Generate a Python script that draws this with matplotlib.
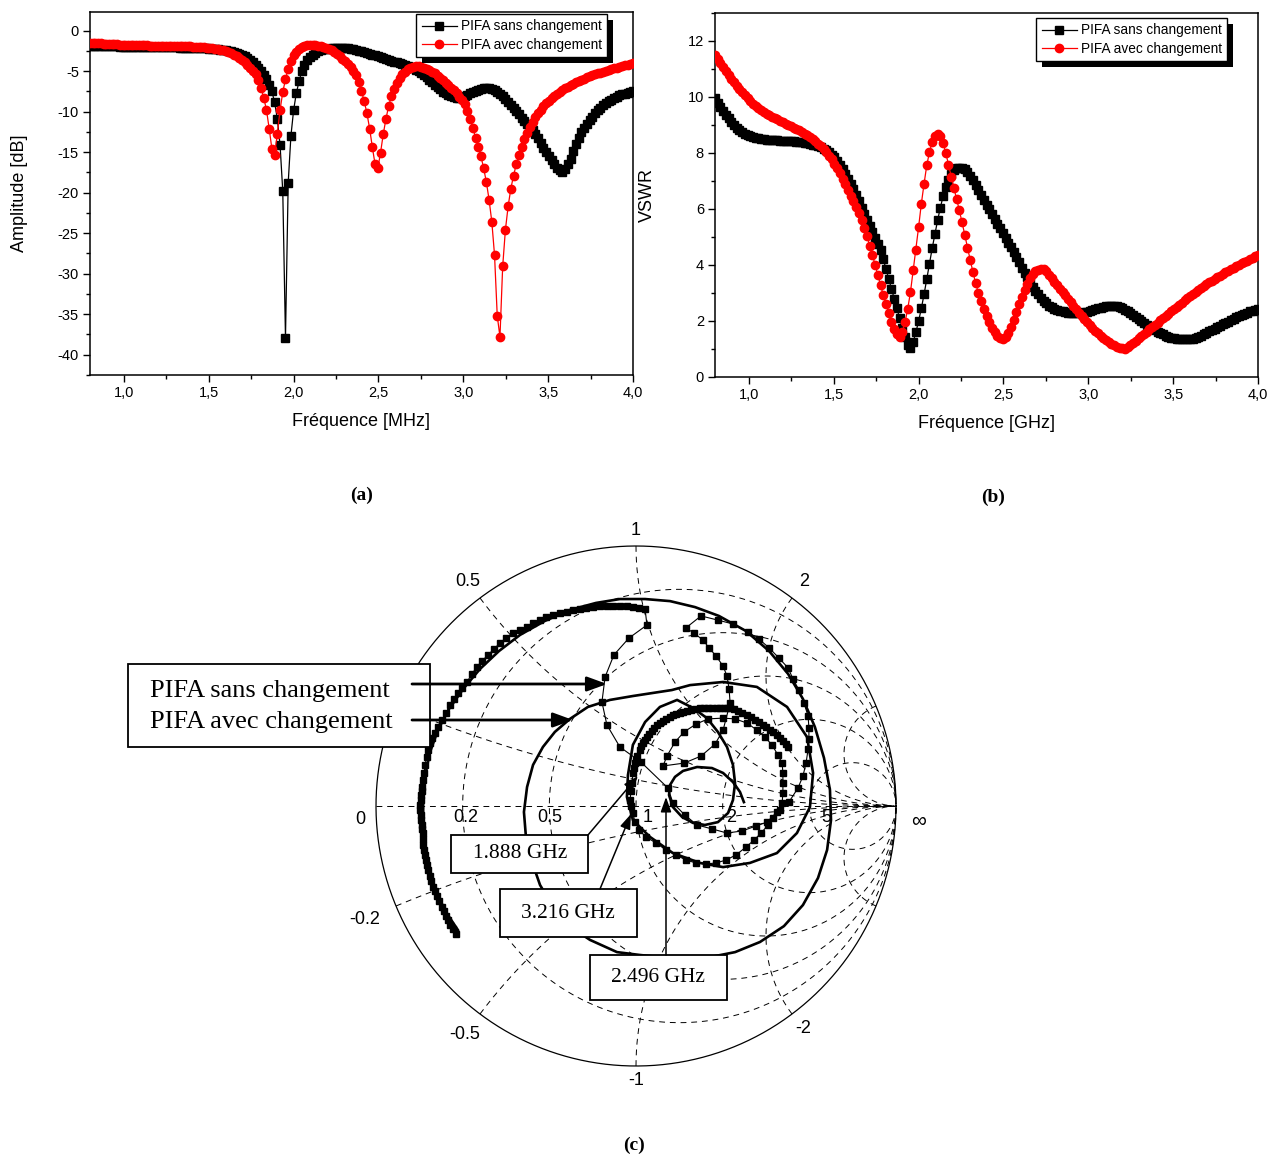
import numpy as np
import matplotlib
matplotlib.use("Agg")
import matplotlib.pyplot as plt
from matplotlib.patches import Rectangle
from matplotlib.ticker import MultipleLocator, FuncFormatter

W, H = 1276, 1157
plt.rcParams['font.family'] = ['Liberation Sans', 'DejaVu Sans']
SERIF = ['Liberation Serif', 'DejaVu Serif']

# ---------------- data ----------------
# sweep 0.8 -> 4.0 GHz, 16 MHz step (201 points)
freq = np.round(0.8 + 0.016 * np.arange(201), 3)

s11_sans = [
    -1.85, -1.86, -1.87, -1.88, -1.89, -1.90, -1.91, -1.92, -1.93, -1.94,
    -1.95, -1.96, -1.97, -1.98, -1.99, -1.99, -2.00, -2.00, -2.01, -2.01,
    -2.02, -2.02, -2.03, -2.03, -2.04, -2.04, -2.05, -2.05, -2.06, -2.06,
    -2.07, -2.07, -2.08, -2.09, -2.10, -2.10, -2.11, -2.12, -2.13, -2.14,
    -2.15, -2.16, -2.18, -2.20, -2.22, -2.24, -2.27, -2.30, -2.34, -2.38,
    -2.43, -2.48, -2.53, -2.60, -2.70, -2.83, -2.98, -3.15, -3.38, -3.62,
    -3.90, -4.20, -4.55, -4.95, -5.45, -6.00, -6.70, -7.50, -8.85, -10.9,
    -14.1, -19.8, -37.9, -18.8, -13.0, -9.8, -7.7, -6.26, -5.0, -4.2,
    -3.65, -3.25, -2.95, -2.70, -2.52, -2.40, -2.32, -2.27, -2.23, -2.20,
    -2.18, -2.16, -2.15, -2.15, -2.17, -2.20, -2.25, -2.32, -2.40, -2.48,
    -2.57, -2.66, -2.75, -2.85, -2.95, -3.05, -3.15, -3.26, -3.37, -3.48,
    -3.60, -3.72, -3.83, -3.93, -4.03, -4.12, -4.22, -4.35, -4.50, -4.65,
    -4.80, -5.00, -5.22, -5.47, -5.75, -6.05, -6.35, -6.65, -6.95, -7.25,
    -7.52, -7.75, -7.95, -8.10, -8.22, -8.28, -8.27, -8.20, -8.08, -7.92,
    -7.75, -7.58, -7.42, -7.30, -7.20, -7.13, -7.10, -7.12, -7.20, -7.35,
    -7.55, -7.80, -8.10, -8.45, -8.82, -9.20, -9.55, -9.95, -10.35, -10.75,
    -11.15, -11.55, -11.95, -12.30, -12.75, -13.30, -13.90, -14.45, -14.95, -15.45,
    -15.95, -16.45, -16.90, -17.25, -17.40, -17.10, -16.50, -15.80, -14.90, -14.00,
    -13.20, -12.55, -12.00, -11.50, -11.00, -10.60, -10.20, -9.85, -9.50, -9.20,
    -8.95, -8.70, -8.50, -8.30, -8.15, -8.00, -7.88, -7.76, -7.66, -7.57,
    -7.50]

s11_avec = [
    -1.50, -1.52, -1.54, -1.56, -1.58, -1.60, -1.62, -1.64, -1.66, -1.68,
    -1.70, -1.72, -1.74, -1.75, -1.76, -1.77, -1.78, -1.79, -1.80, -1.81,
    -1.82, -1.83, -1.84, -1.85, -1.85, -1.86, -1.87, -1.87, -1.88, -1.88,
    -1.89, -1.89, -1.90, -1.90, -1.91, -1.92, -1.93, -1.94, -1.96, -1.98,
    -2.00, -2.03, -2.06, -2.10, -2.14, -2.18, -2.23, -2.28, -2.34, -2.41,
    -2.50, -2.62, -2.77, -2.95, -3.15, -3.37, -3.60, -3.87, -4.20, -4.55,
    -4.95, -5.40, -6.10, -7.10, -8.30, -9.80, -12.1, -14.6, -15.3, -12.7,
    -9.8, -7.6, -6.0, -4.7, -3.8, -3.0, -2.6, -2.25, -2.05, -1.90,
    -1.80, -1.75, -1.75, -1.78, -1.84, -1.92, -2.02, -2.14, -2.28, -2.45,
    -2.65, -2.88, -3.15, -3.45, -3.78, -4.12, -4.50, -4.95, -5.50, -6.40,
    -7.50, -8.70, -10.2, -12.1, -14.4, -16.5, -17.0, -15.1, -12.8, -10.9,
    -9.30, -8.10, -7.20, -6.45, -5.85, -5.40, -5.05, -4.78, -4.60, -4.48,
    -4.42, -4.42, -4.48, -4.58, -4.70, -4.85, -5.05, -5.28, -5.55, -5.85,
    -6.15, -6.45, -6.75, -7.05, -7.38, -7.75, -8.15, -8.60, -9.10, -9.90,
    -10.9, -12.0, -13.2, -14.3, -15.5, -17.0, -18.7, -20.9, -23.6, -27.7,
    -35.2, -37.8, -29.1, -24.6, -21.7, -19.5, -17.9, -16.5, -15.3, -14.3,
    -13.4, -12.6, -11.9, -11.25, -10.7, -10.2, -9.75, -9.35, -8.98, -8.65,
    -8.35, -8.07, -7.80, -7.55, -7.32, -7.10, -6.90, -6.72, -6.55, -6.38,
    -6.22, -6.07, -5.92, -5.78, -5.65, -5.52, -5.40, -5.28, -5.17, -5.06,
    -4.95, -4.85, -4.75, -4.65, -4.55, -4.46, -4.37, -4.28, -4.19, -4.10,
    -4.02]

vswr_sans = [
    9.95, 9.80, 9.65, 9.50, 9.37, 9.24, 9.12, 9.01, 8.91, 8.82,
    8.75, 8.69, 8.64, 8.60, 8.57, 8.54, 8.52, 8.50, 8.49, 8.48,
    8.47, 8.46, 8.45, 8.45, 8.44, 8.44, 8.43, 8.43, 8.42, 8.42,
    8.41, 8.40, 8.39, 8.37, 8.35, 8.33, 8.30, 8.27, 8.24, 8.20,
    8.16, 8.10, 8.03, 7.94, 7.84, 7.72, 7.58, 7.43, 7.26, 7.08,
    6.90, 6.70, 6.49, 6.27, 6.05, 5.83, 5.62, 5.40, 5.17, 4.95,
    4.75, 4.55, 4.20, 3.85, 3.50, 3.15, 2.80, 2.45, 2.10, 1.75,
    1.42, 1.15, 1.03, 1.25, 1.60, 2.00, 2.45, 2.95, 3.50, 4.05,
    4.60, 5.10, 5.60, 6.05, 6.45, 6.78, 7.05, 7.25, 7.38, 7.45,
    7.48, 7.47, 7.42, 7.32, 7.18, 7.02, 6.85, 6.67, 6.50, 6.33,
    6.16, 5.99, 5.82, 5.65, 5.48, 5.31, 5.14, 4.97, 4.80, 4.63,
    4.45, 4.27, 4.09, 3.91, 3.73, 3.56, 3.39, 3.23, 3.08, 2.95,
    2.83, 2.72, 2.63, 2.55, 2.49, 2.44, 2.40, 2.37, 2.34, 2.32,
    2.30, 2.29, 2.28, 2.28, 2.28, 2.29, 2.31, 2.33, 2.36, 2.39,
    2.42, 2.45, 2.48, 2.50, 2.52, 2.53, 2.54, 2.54, 2.53, 2.50,
    2.46, 2.41, 2.35, 2.28, 2.21, 2.14, 2.07, 2.00, 1.93, 1.86,
    1.80, 1.74, 1.68, 1.62, 1.57, 1.52, 1.48, 1.44, 1.41, 1.39,
    1.37, 1.36, 1.35, 1.34, 1.34, 1.35, 1.37, 1.40, 1.44, 1.48,
    1.53, 1.58, 1.63, 1.68, 1.73, 1.78, 1.83, 1.88, 1.93, 1.98,
    2.03, 2.08, 2.13, 2.18, 2.22, 2.26, 2.30, 2.34, 2.37, 2.40,
    2.43]

vswr_avec = [
    11.50, 11.35, 11.21, 11.07, 10.93, 10.79, 10.66, 10.53, 10.41, 10.29,
    10.17, 10.06, 9.95, 9.84, 9.76, 9.68, 9.61, 9.54, 9.47, 9.41,
    9.35, 9.30, 9.25, 9.20, 9.15, 9.10, 9.05, 9.01, 8.96, 8.91,
    8.86, 8.81, 8.75, 8.69, 8.63, 8.57, 8.50, 8.42, 8.33, 8.24,
    8.14, 8.03, 7.91, 7.78, 7.62, 7.45, 7.27, 7.08, 6.88, 6.68,
    6.48, 6.27, 6.06, 5.85, 5.62, 5.33, 5.02, 4.68, 4.35, 4.00,
    3.63, 3.27, 2.92, 2.60, 2.27, 1.96, 1.70, 1.52, 1.43, 1.60,
    1.96, 2.44, 3.04, 3.81, 4.55, 5.36, 6.19, 6.90, 7.56, 8.04,
    8.39, 8.60, 8.69, 8.60, 8.36, 8.00, 7.58, 7.15, 6.75, 6.35,
    5.95, 5.52, 5.08, 4.62, 4.18, 3.75, 3.35, 3.00, 2.70, 2.42,
    2.17, 1.95, 1.76, 1.60, 1.47, 1.38, 1.35, 1.42, 1.58, 1.80,
    2.05, 2.32, 2.59, 2.85, 3.10, 3.33, 3.52, 3.67, 3.77, 3.83,
    3.86, 3.84, 3.77, 3.66, 3.53, 3.40, 3.28, 3.16, 3.04, 2.92,
    2.80, 2.67, 2.54, 2.42, 2.30, 2.18, 2.07, 1.96, 1.86, 1.76,
    1.66, 1.57, 1.48, 1.40, 1.32, 1.25, 1.19, 1.13, 1.08, 1.04,
    1.02, 1.00, 1.07, 1.14, 1.22, 1.30, 1.38, 1.46, 1.54, 1.62,
    1.70, 1.78, 1.86, 1.94, 2.02, 2.10, 2.18, 2.26, 2.34, 2.42,
    2.50, 2.58, 2.66, 2.74, 2.82, 2.89, 2.96, 3.03, 3.10, 3.17,
    3.24, 3.31, 3.38, 3.44, 3.50, 3.56, 3.62, 3.68, 3.74, 3.80,
    3.86, 3.91, 3.96, 4.01, 4.06, 4.11, 4.16, 4.21, 4.26, 4.31,
    4.36]

# Smith chart traces (reflection coefficient, real / imaginary part)
smith_sans_re = [
    -0.692, -0.704, -0.715, -0.723, -0.731, -0.738, -0.746, -0.758, -0.765, -0.773,
    -0.781, -0.788, -0.792, -0.800, -0.804, -0.808, -0.812, -0.815, -0.819, -0.819,
    -0.819, -0.823, -0.823, -0.827, -0.827, -0.831, -0.831, -0.827, -0.827, -0.823,
    -0.823, -0.819, -0.815, -0.812, -0.804, -0.800, -0.792, -0.785, -0.773, -0.762,
    -0.746, -0.731, -0.715, -0.700, -0.685, -0.669, -0.650, -0.631, -0.612, -0.592,
    -0.569, -0.546, -0.523, -0.500, -0.473, -0.446, -0.419, -0.396, -0.369, -0.346,
    -0.319, -0.292, -0.265, -0.242, -0.215, -0.192, -0.165, -0.138, -0.112, -0.088,
    -0.062, -0.035, -0.012, 0.012, 0.035,
    0.042, -0.027, -0.085, -0.119, -0.131, -0.112, -0.062, 0.019, 0.123, 0.142,
    0.188, 0.235, 0.292, 0.350, 0.408, 0.462, 0.504, 0.542, 0.562, 0.565,
    0.565, 0.565, 0.562, 0.546, 0.523, 0.496, 0.465, 0.427, 0.381, 0.335,
    0.277, 0.231, 0.185, 0.150, 0.119, 0.104,
    0.185, 0.250, 0.304, 0.335, 0.362, 0.358, 0.350, 0.335, 0.308, 0.281,
    0.258, 0.223, 0.192,
    0.250, 0.315, 0.373, 0.431, 0.473, 0.512, 0.550, 0.585, 0.604, 0.627,
    0.646, 0.662, 0.665, 0.665, 0.662, 0.654, 0.642, 0.623, 0.588, 0.554,
    0.527, 0.508, 0.481, 0.454, 0.423, 0.385, 0.346, 0.308, 0.269, 0.231,
    0.192, 0.154, 0.115, 0.077, 0.038, 0.012,
    -0.004, -0.012, -0.019, -0.023, -0.019, -0.015, -0.012, -0.008, -0.004, 0.000,
    0.004, 0.015, 0.019, 0.027, 0.035, 0.042, 0.050, 0.062, 0.069, 0.081,
    0.092, 0.104, 0.115, 0.131, 0.142, 0.154, 0.169, 0.181, 0.196, 0.212,
    0.227, 0.246, 0.262, 0.277, 0.292, 0.312, 0.323, 0.338, 0.350, 0.362,
    0.377, 0.392, 0.408, 0.427, 0.442, 0.458, 0.473, 0.488, 0.500, 0.515,
    0.527, 0.542, 0.554, 0.565, 0.577, 0.585]
smith_sans_im = [
    -0.492, -0.473, -0.458, -0.438, -0.423, -0.404, -0.388, -0.365, -0.346, -0.327,
    -0.312, -0.288, -0.269, -0.246, -0.227, -0.208, -0.188, -0.169, -0.150, -0.127,
    -0.104, -0.088, -0.073, -0.054, -0.035, -0.015, 0.004, 0.023, 0.042, 0.058,
    0.073, 0.100, 0.127, 0.158, 0.188, 0.215, 0.242, 0.262, 0.281, 0.304,
    0.331, 0.358, 0.388, 0.412, 0.435, 0.454, 0.477, 0.508, 0.535, 0.558,
    0.581, 0.604, 0.627, 0.646, 0.665, 0.677, 0.688, 0.704, 0.715, 0.727,
    0.735, 0.742, 0.746, 0.754, 0.758, 0.762, 0.765, 0.769, 0.769, 0.769,
    0.769, 0.769, 0.765, 0.762, 0.758,
    0.696, 0.646, 0.581, 0.496, 0.400, 0.312, 0.227, 0.169, 0.069, 0.012,
    -0.035, -0.073, -0.088, -0.104, -0.096, -0.077, -0.062, -0.023, 0.012, 0.050,
    0.088, 0.127, 0.165, 0.196, 0.235, 0.265, 0.292, 0.319, 0.335, 0.338,
    0.335, 0.315, 0.285, 0.246, 0.192, 0.154,
    0.165, 0.192, 0.238, 0.292, 0.396, 0.450, 0.500, 0.538, 0.577, 0.608,
    0.638, 0.665, 0.685,
    0.731, 0.715, 0.700, 0.669, 0.642, 0.608, 0.569, 0.531, 0.488, 0.446,
    0.396, 0.346, 0.300, 0.258, 0.219, 0.165, 0.115, 0.069, 0.015, -0.015,
    -0.046, -0.073, -0.104, -0.131, -0.158, -0.188, -0.208, -0.219, -0.223, -0.219,
    -0.208, -0.188, -0.169, -0.142, -0.119, -0.092,
    -0.062, -0.027, 0.000, 0.023, 0.058, 0.088, 0.127, 0.146, 0.165, 0.177,
    0.192, 0.215, 0.231, 0.242, 0.254, 0.265, 0.277, 0.288, 0.300, 0.312,
    0.319, 0.327, 0.335, 0.342, 0.350, 0.354, 0.358, 0.362, 0.365, 0.369,
    0.373, 0.377, 0.377, 0.377, 0.377, 0.377, 0.377, 0.377, 0.377, 0.377,
    0.373, 0.365, 0.358, 0.350, 0.342, 0.331, 0.323, 0.312, 0.304, 0.292,
    0.285, 0.273, 0.262, 0.250, 0.238, 0.227]

smith_avec_re = [
    -0.685, -0.731, -0.769, -0.796, -0.812, -0.819, -0.819, -0.812, -0.792, -0.762,
    -0.719, -0.665, -0.600, -0.527, -0.446, -0.350, -0.254, -0.154, -0.062, 0.035,
    0.131, 0.227, 0.319, 0.423, 0.512, 0.585, 0.642, 0.688, 0.723, 0.746,
    0.750, 0.735, 0.700, 0.642, 0.569, 0.477, 0.381, 0.265, 0.131, 0.015,
    -0.073, -0.177, -0.262, -0.323, -0.369, -0.400, -0.423, -0.431, -0.419, -0.396,
    -0.358, -0.312, -0.254, -0.185, -0.100, -0.012,
    0.138, 0.208, 0.335, 0.465, 0.581, 0.658, 0.681, 0.669, 0.619, 0.542,
    0.438, 0.335, 0.246, 0.142, 0.054, -0.012, -0.035, -0.031, -0.012, 0.035,
    0.092, 0.158,
    0.219, 0.273, 0.315, 0.350, 0.373, 0.381, 0.373, 0.354, 0.315, 0.265,
    0.219, 0.177, 0.142, 0.127, 0.131, 0.150, 0.181, 0.235, 0.292, 0.335,
    0.373, 0.400, 0.415]
smith_avec_im = [
    -0.477, -0.408, -0.331, -0.246, -0.162, -0.073, 0.023, 0.112, 0.208, 0.292,
    0.373, 0.450, 0.527, 0.596, 0.658, 0.712, 0.754, 0.781, 0.796, 0.796,
    0.788, 0.765, 0.731, 0.673, 0.596, 0.508, 0.412, 0.304, 0.185, 0.062,
    -0.054, -0.169, -0.277, -0.381, -0.462, -0.523, -0.562, -0.585, -0.585, -0.573,
    -0.562, -0.515, -0.458, -0.381, -0.304, -0.215, -0.123, -0.023, 0.073, 0.158,
    0.227, 0.285, 0.335, 0.381, 0.408, 0.423,
    0.446, 0.465, 0.477, 0.458, 0.381, 0.265, 0.127, -0.004, -0.104, -0.181,
    -0.219, -0.235, -0.219, -0.181, -0.119, -0.054, 0.035, 0.119, 0.235, 0.323,
    0.381, 0.408,
    0.377, 0.338, 0.285, 0.227, 0.158, 0.088, 0.023, -0.027, -0.062, -0.073,
    -0.065, -0.042, -0.004, 0.042, 0.081, 0.112, 0.135, 0.150, 0.146, 0.127,
    0.092, 0.054, 0.015]

smith_r = [0.2, 0.5, 1, 2, 5]
smith_x = [0.2, 0.5, 1, 2, 5]
smith_x_labels = [0.5, 1, 2, -0.2, -0.5, -1, -2]
series_labels = ['PIFA sans changement', 'PIFA avec changement']
freq_labels = ['1.888 GHz', '3.216 GHz', '2.496 GHz']

fig = plt.figure(figsize=(W / 100, H / 100), dpi=100)


def comma(v, pos):
    return f'{v:.1f}'.replace('.', ',')


def origin_axes(rect, ylim, ymaj, ymin, xlabel, ylabel, ylab_x):
    ax = fig.add_axes(rect)
    ax.set_facecolor('none')
    ax.set_xlim(0.8, 4.0)
    ax.set_ylim(*ylim)
    ax.xaxis.set_major_locator(MultipleLocator(0.5))
    ax.xaxis.set_minor_locator(MultipleLocator(0.25))
    ax.yaxis.set_major_locator(MultipleLocator(ymaj))
    ax.yaxis.set_minor_locator(MultipleLocator(ymin))
    ax.xaxis.set_major_formatter(FuncFormatter(comma))
    ax.yaxis.set_major_formatter(FuncFormatter(lambda v, p: '%d' % round(v)))
    ax.tick_params(which='both', direction='out', top=False, right=False,
                   labelsize=10.5, width=1.0)
    ax.tick_params(which='major', length=5, pad=3)
    ax.tick_params(which='minor', length=3)
    for s in ax.spines.values():
        s.set_linewidth(1.1)
    ax.set_xlabel(xlabel, fontsize=13)
    ax.set_ylabel(ylabel, fontsize=13)
    ax.xaxis.set_label_coords(0.5, -0.105)
    ax.yaxis.set_label_coords(ylab_x, 0.5)
    return ax


def origin_legend(ax, anchor):
    leg = ax.legend(loc='upper right', bbox_to_anchor=anchor, borderaxespad=0,
                    fontsize=9.8, fancybox=False, framealpha=1, edgecolor='black',
                    handlelength=2.6, handletextpad=0.25, borderpad=0.4,
                    labelspacing=0.3)
    leg.get_frame().set_linewidth(1.0)
    leg.set_zorder(6)
    return leg


def legend_shadow(ax, leg, off=6):
    fig.canvas.draw()
    bb = leg.get_window_extent()
    inv = ax.transAxes.inverted()
    x0, y0 = inv.transform((bb.x0 + off, bb.y0 - off))
    x1, y1 = inv.transform((bb.x1 + off, bb.y1 - off))
    ax.add_patch(Rectangle((x0, y0), x1 - x0, y1 - y0, transform=ax.transAxes,
                           facecolor='black', edgecolor='none', zorder=5.5,
                           clip_on=False))


# ---------------- (a) return loss ----------------
ax1 = origin_axes([90 / W, 1 - 375 / H, 543 / W, 363 / H], (-42.5, 2.3), 5, 2.5,
                  'Fréquence [MHz]', 'Amplitude [dB]', -0.114)
ax1.plot(freq, s11_sans, '-', color='black', lw=0.9, marker='s', ms=5.3,
         mec='black', mfc='black', label=series_labels[0], zorder=3)
ax1.plot(freq, s11_avec, '-', color='red', lw=0.9, marker='o', ms=6,
         mec='red', mfc='red', label=series_labels[1], zorder=4)
leg1 = origin_legend(ax1, ((607 - 90) / 543, (375 - 14) / 363))

# ---------------- (b) VSWR ----------------
ax2 = origin_axes([715 / W, 1 - 377 / H, 543 / W, 364 / H], (0, 13), 2, 1,
                  'Fréquence [GHz]', 'VSWR', -0.109)
ax2.plot(freq, vswr_sans, '-', color='black', lw=0.9, marker='s', ms=5.3,
         mec='black', mfc='black', label=series_labels[0], zorder=3)
ax2.plot(freq, vswr_avec, '-', color='red', lw=0.9, marker='o', ms=6,
         mec='red', mfc='red', label=series_labels[1], zorder=4)
leg2 = origin_legend(ax2, ((1227 - 715) / 543, (377 - 18) / 364))

legend_shadow(ax1, leg1)
legend_shadow(ax2, leg2)

# ---------------- (c) Smith chart ----------------
CX, CY, R = 636, 806, 260


def P(x, y):
    # reference-image pixel -> chart units (layout helper for boxes/arrows)
    return ((x - CX) / R, (CY - y) / R)


axc = fig.add_axes([100 / W, 0, 1072 / W, 657 / H])
axc.set_xlim((100 - CX) / R, (1172 - CX) / R)
axc.set_ylim((CY - 1157) / R, (CY - 500) / R)
axc.axis('off')

dash = dict(color='black', lw=0.7, ls=(0, (6, 5)), zorder=1)
xs = np.concatenate([-np.geomspace(300, 1e-3, 400), np.geomspace(1e-3, 300, 400)])
for r in smith_r:
    z = r + 1j * xs
    g = (z - 1) / (z + 1)
    axc.plot(g.real, g.imag, **dash)
rs = np.concatenate([[0], np.geomspace(1e-3, 300, 500)])
for x in smith_x:
    for sgn in (1, -1):
        z = rs + 1j * sgn * x
        g = (z - 1) / (z + 1)
        axc.plot(g.real, g.imag, **dash)
axc.plot([-1, 1], [0, 0], **dash)
th = np.linspace(0, 2 * np.pi, 600)
axc.plot(np.cos(th), np.sin(th), color='black', lw=0.9, zorder=1)

# outer (reactance) labels; the +0.2 one sits under the legend box in the original
for x, k in zip(smith_x_labels, [1.08, 1.06, 1.08, 1.13, 1.10, 1.055, 1.07]):
    g = (1j * x - 1) / (1j * x + 1) * k
    axc.text(g.real, g.imag, f'{x:g}', fontsize=13, ha='center', va='center', zorder=2)
axc.text(-1.06, -0.05, '0', fontsize=13, ha='center', va='center')
axc.text(1.085, -0.06, '\u221e', fontsize=15, ha='center', va='center')
# resistance labels
for r, off in zip(smith_r, [0.013, 0.002, 0.046, 0.032, 0.064]):
    axc.text((r - 1) / (r + 1) + off, -0.046, f'{r:g}', fontsize=13,
             ha='center', va='center', zorder=2)

axc.plot(smith_avec_re, smith_avec_im, '-', color='black', lw=1.9, zorder=3)
axc.plot(smith_sans_re, smith_sans_im, '-', color='black', lw=0.8, marker='s',
         ms=5, mec='black', mfc='black', zorder=4)


def box(x0, y0, x1, y1):
    (a, b), (c, d) = P(x0, y1), P(x1, y0)
    axc.add_patch(Rectangle((a, b), c - a, d - b, facecolor='white',
                            edgecolor='black', lw=1.3, zorder=6))


def arrow(p0, p1, lw, hl, hw):
    axc.annotate('', xy=P(*p1), xytext=P(*p0), zorder=7,
                 arrowprops=dict(arrowstyle=f'-|>,head_length={hl},head_width={hw}',
                                 color='black', lw=lw, mutation_scale=20,
                                 shrinkA=0, shrinkB=0))


# legend box with arrows
box(128, 664, 430, 747)
axc.text(*P(150, 691), series_labels[0], family=SERIF, fontsize=19,
         ha='left', va='center', zorder=7)
axc.text(*P(150, 722), series_labels[1], family=SERIF, fontsize=19,
         ha='left', va='center', zorder=7)
arrow((412, 684), (607, 684), 2.0, 0.6, 0.22)
arrow((412, 720), (573, 720), 2.0, 0.6, 0.22)

# frequency call-outs
box(451, 835, 588, 873)
axc.text(*P(520, 854), freq_labels[0], family=SERIF, fontsize=15.5,
         ha='center', va='center', zorder=7)
arrow((588, 835), (638, 776), 1.1, 0.45, 0.16)
box(500, 889, 637, 937)
axc.text(*P(568, 913), freq_labels[1], family=SERIF, fontsize=15.5,
         ha='center', va='center', zorder=7)
arrow((600, 889), (631, 814), 1.1, 0.45, 0.16)
box(590, 955, 727, 1000)
axc.text(*P(658, 977), freq_labels[2], family=SERIF, fontsize=15.5,
         ha='center', va='center', zorder=7)
arrow((666, 955), (666, 797), 1.1, 0.45, 0.16)

# panel tags
for tag, x, y in [('(a)', 362, 495), ('(b)', 993, 497), ('(c)', 634, 1145)]:
    fig.text(x / W, 1 - y / H, tag, family=SERIF, fontsize=14, fontweight='bold',
             ha='center', va='center')

fig.savefig('out.png', dpi=100)
